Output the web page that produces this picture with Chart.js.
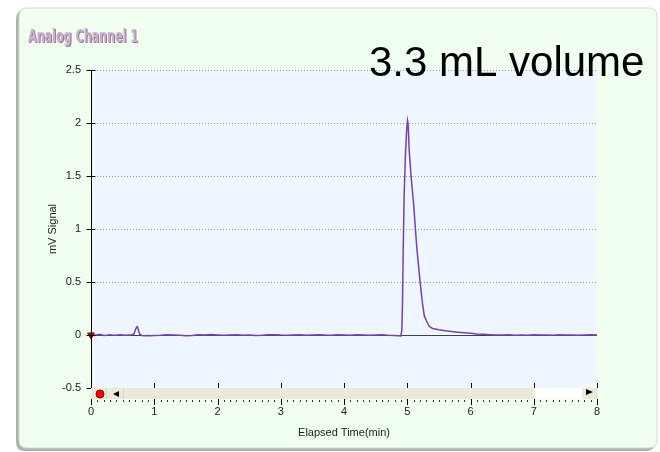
<!DOCTYPE html>
<html><head><meta charset="utf-8">
<script src="https://cdn.jsdelivr.net/npm/chart.js@4/dist/chart.umd.min.js"></script>
<style>html,body{margin:0;padding:0;background:#fff}#wrap{width:660px;height:452px;position:relative}</style>
</head><body><div id="wrap"><canvas id="c" width="660" height="452"></canvas></div>
<script>
const chartTitle = 'Analog Channel 1';
const annotationText = '3.3 mL volume';
const xAxisTitle = 'Elapsed Time(min)';
const yAxisTitle = 'mV Signal';

const timeMin = [0.00,0.05,0.10,0.15,0.20,0.25,0.30,0.35,0.40,0.45,0.50,0.55,0.60,0.65,0.68,0.70,0.72,0.735,0.75,0.77,0.80,0.85,0.90,0.95,
1.00,1.10,1.20,1.30,1.40,1.50,1.60,1.70,1.80,1.90,2.00,2.10,2.20,2.30,2.40,2.50,2.60,2.70,2.80,2.90,
3.00,3.10,3.20,3.30,3.40,3.50,3.60,3.70,3.80,3.90,4.00,4.10,4.20,4.30,4.40,4.50,4.60,4.70,4.80,4.85,4.90,
4.915,4.925,4.935,4.95,4.97,4.99,5.005,5.015,5.03,5.06,5.10,5.15,5.20,5.24,5.27,5.31,5.35,5.40,5.50,5.60,5.70,5.80,5.90,
6.00,6.10,6.20,6.30,6.40,6.50,6.60,6.70,6.80,6.90,7.00,7.10,7.20,7.30,7.40,7.50,7.60,7.70,7.80,7.90,8.00];
const signalMv = [0.000,-0.004,0.003,0.004,-0.004,-0.002,0.002,-0.003,-0.002,0.003,0.001,-0.002,0.001,0.003,0.012,0.045,0.075,0.078,0.045,0.008,-0.004,-0.008,-0.005,-0.007,
-0.004,-0.002,0.002,0.001,-0.003,-0.006,-0.004,0.002,-0.001,0.004,0.001,-0.003,-0.001,0.002,-0.002,0.001,-0.004,-0.002,0.002,0.003,
-0.001,-0.003,0.001,0.002,-0.002,0.001,0.003,-0.001,-0.003,0.002,0.001,-0.002,0.002,0.001,-0.003,-0.001,0.002,-0.002,-0.004,-0.006,-0.008,
0.050,0.300,0.750,1.300,1.680,1.930,2.020,1.980,1.750,1.500,1.240,0.830,0.520,0.300,0.180,0.125,0.080,0.062,0.050,0.040,0.033,0.027,0.022,
0.016,0.010,0.006,0.003,0.001,-0.001,0.002,-0.002,0.001,-0.003,0.002,-0.001,0.001,-0.002,0.002,-0.001,0.001,-0.003,0.000,0.002,-0.001];

const markerTime = [0];
const markerValue = [0];

const xTickValues = [0,1,2,3,4,5,6,7,8];
const xTickLabels = ['0','1','2','3','4','5','6','7','8'];
const yTickValues = [-0.5,0,0.5,1,1.5,2,2.5];
const yTickLabels = ['-0.5','0','0.5','1','1.5','2','2.5'];
const viewWindow = [0, 7];

const FONT = "'Liberation Sans', Arial, sans-serif";

function roundRect(ctx, x, y, w, h, r) {
  ctx.beginPath();
  ctx.moveTo(x + r, y);
  ctx.lineTo(x + w - r, y);
  ctx.quadraticCurveTo(x + w, y, x + w, y + r);
  ctx.lineTo(x + w, y + h - r);
  ctx.quadraticCurveTo(x + w, y + h, x + w - r, y + h);
  ctx.lineTo(x + r, y + h);
  ctx.quadraticCurveTo(x, y + h, x, y + h - r);
  ctx.lineTo(x, y + r);
  ctx.quadraticCurveTo(x, y, x + r, y);
  ctx.closePath();
}

const decorPlugin = {
  id: 'decor',
  beforeDraw(chart) {
    const ctx = chart.ctx, a = chart.chartArea;
    ctx.save();
    ctx.fillStyle = '#ffffff';
    ctx.fillRect(0, 0, chart.width, chart.height);
    roundRect(ctx, 16, 10, 639, 441, 9);
    ctx.fillStyle = '#aab4aa';
    ctx.fill();
    roundRect(ctx, 19, 8, 638, 440, 8);
    ctx.fillStyle = '#f0fff0';
    ctx.fill();
    ctx.strokeStyle = '#d2ddd2';
    ctx.lineWidth = 1;
    ctx.stroke();
    ctx.fillStyle = '#eef6ff';
    ctx.fillRect(a.left, a.top, a.right - a.left, a.bottom - a.top);
    ctx.restore();
  },
  beforeDatasetsDraw(chart) {
    const ctx = chart.ctx, a = chart.chartArea;
    const ys = chart.scales.y;
    ctx.save();
    ctx.lineWidth = 1;
    ctx.strokeStyle = '#9a9a9a';
    ctx.setLineDash([1, 2]);
    yTickValues.forEach(v => {
      if (v === 0 || v === -0.5) return;
      const py = Math.round(ys.getPixelForValue(v)) + 0.5;
      ctx.beginPath(); ctx.moveTo(a.left, py); ctx.lineTo(a.right, py); ctx.stroke();
    });
    ctx.setLineDash([]);
    const z = Math.round(ys.getPixelForValue(0)) + 0.5;
    ctx.strokeStyle = '#404040';
    ctx.beginPath(); ctx.moveTo(a.left, z); ctx.lineTo(a.right, z); ctx.stroke();
    ctx.restore();
  },
  afterDatasetsDraw(chart) {
    const ctx = chart.ctx, a = chart.chartArea;
    const xs = chart.scales.x, ys = chart.scales.y;
    ctx.save();
    const ax = Math.round(a.left) + 0.5;
    ctx.strokeStyle = '#000';
    ctx.lineWidth = 1;
    ctx.beginPath(); ctx.moveTo(ax, a.top); ctx.lineTo(ax, a.bottom); ctx.stroke();
    yTickValues.forEach(v => {
      const py = Math.round(ys.getPixelForValue(v)) + 0.5;
      ctx.beginPath(); ctx.moveTo(ax - 5, py); ctx.lineTo(ax + 4, py); ctx.stroke();
    });
    const sTop = a.bottom, sBot = a.bottom + 11;
    const wEnd = xs.getPixelForValue(viewWindow[1]);
    ctx.fillStyle = '#ece9d8';
    ctx.fillRect(a.left, sTop, wEnd - a.left, sBot - sTop);
    ctx.fillStyle = '#ffffff';
    ctx.fillRect(wEnd, sTop, a.right - wEnd, sBot - sTop);
    ctx.fillStyle = '#ece9d8';
    ctx.fillRect(a.right - 15, sTop, 15, sBot - sTop);
    ctx.strokeStyle = '#d8d4c4';
    [a.left + 15, a.left + 32].forEach(px => {
      ctx.beginPath(); ctx.moveTo(Math.round(px) + 0.5, sTop); ctx.lineTo(Math.round(px) + 0.5, sBot); ctx.stroke();
    });
    ctx.beginPath(); ctx.arc(a.left + 9, sTop + 6, 4, 0, Math.PI * 2);
    ctx.fillStyle = '#ff0000'; ctx.fill();
    ctx.strokeStyle = '#a00000'; ctx.stroke();
    ctx.fillStyle = '#000';
    ctx.beginPath();
    ctx.moveTo(a.left + 22, sTop + 6); ctx.lineTo(a.left + 28, sTop + 3); ctx.lineTo(a.left + 28, sTop + 9); ctx.closePath(); ctx.fill();
    ctx.beginPath();
    ctx.moveTo(a.right - 4, sTop + 4); ctx.lineTo(a.right - 11, sTop + 1); ctx.lineTo(a.right - 11, sTop + 7); ctx.closePath(); ctx.fill();
    ctx.strokeStyle = '#000';
    xTickValues.forEach(v => {
      const px = Math.round(xs.getPixelForValue(v)) + 0.5;
      ctx.beginPath(); ctx.moveTo(px, a.bottom - 5); ctx.lineTo(px, a.bottom); ctx.stroke();
      ctx.beginPath(); ctx.moveTo(px, sBot); ctx.lineTo(px, sBot + 6); ctx.stroke();
    });
    ctx.strokeStyle = '#333';
    for (let k = 0; k <= 80; k++) {
      if (k % 10 === 0) continue;
      const px = Math.round(xs.getPixelForValue(k / 10)) + 0.5;
      ctx.beginPath(); ctx.moveTo(px, sBot + 1); ctx.lineTo(px, sBot + 3); ctx.stroke();
    }
    // chart title, condensed to the reference width
    ctx.font = "bold 17px 'DejaVu Sans Condensed', 'Liberation Sans Narrow', sans-serif";
    ctx.textBaseline = 'alphabetic';
    ctx.textAlign = 'left';
    const w = ctx.measureText(chartTitle).width;
    const sx = 110 / w;
    ctx.save();
    ctx.translate(28, 42);
    ctx.scale(sx, 1);
    ctx.fillStyle = '#8e7e8e';
    ctx.fillText(chartTitle, 1 / sx, 1);
    ctx.fillStyle = '#d2aed4';
    ctx.fillText(chartTitle, 0, 0);
    ctx.restore();
    ctx.font = "42px " + FONT;
    ctx.fillStyle = '#000';
    ctx.fillText(annotationText, 369, 76);
    ctx.restore();
  }
};

const chart = new Chart(document.getElementById('c'), {
  type: 'line',
  data: {
    datasets: [
      {
        data: markerTime.map((t, i) => ({x: t, y: markerValue[i]})),
        showLine: false,
        pointStyle: 'triangle',
        rotation: 180,
        pointRadius: 4,
        pointBackgroundColor: '#cc0000',
        pointBorderColor: '#990000',
        pointBorderWidth: 1,
        order: 0,
        clip: false
      },
      {
        data: timeMin.map((t, i) => ({x: t, y: signalMv[i]})),
        borderColor: '#7440b8',
        borderWidth: 1.5,
        pointRadius: 0,
        tension: 0,
        fill: false,
        order: 1
      }
    ]
  },
  options: {
    responsive: false,
    animation: false,
    devicePixelRatio: 1,
    layout: {padding: {top: 70, right: 63, bottom: 0, left: 20}},
    plugins: {legend: {display: false}, tooltip: {enabled: false}, title: {display: false}},
    scales: {
      x: {
        type: 'linear', min: 0, max: 8,
        afterBuildTicks: s => { s.ticks = xTickValues.map(v => ({value: v})); },
        afterFit: s => { s.height = 64; },
        grid: {display: false, drawTicks: false},
        border: {display: false},
        ticks: {
          callback: v => xTickLabels[xTickValues.indexOf(v)],
          font: {family: FONT, size: 11}, color: '#222', padding: 17,
          maxRotation: 0, autoSkip: false
        },
        title: {display: true, text: xAxisTitle, font: {family: FONT, size: 11}, color: '#222', padding: {top: 0, bottom: 12}}
      },
      y: {
        type: 'linear', min: -0.5, max: 2.5,
        afterBuildTicks: s => { s.ticks = yTickValues.map(v => ({value: v})); },
        afterFit: s => { s.width = 71; },
        grid: {display: false, drawTicks: false},
        border: {display: false},
        ticks: {
          callback: v => yTickLabels[yTickValues.indexOf(v)],
          font: {family: FONT, size: 11}, color: '#222', padding: 10
        },
        title: {display: true, text: yAxisTitle, font: {family: FONT, size: 11}, color: '#222', padding: {top: 26, bottom: 0}}
      }
    }
  },
  plugins: [decorPlugin]
});
</script>
</body></html>
